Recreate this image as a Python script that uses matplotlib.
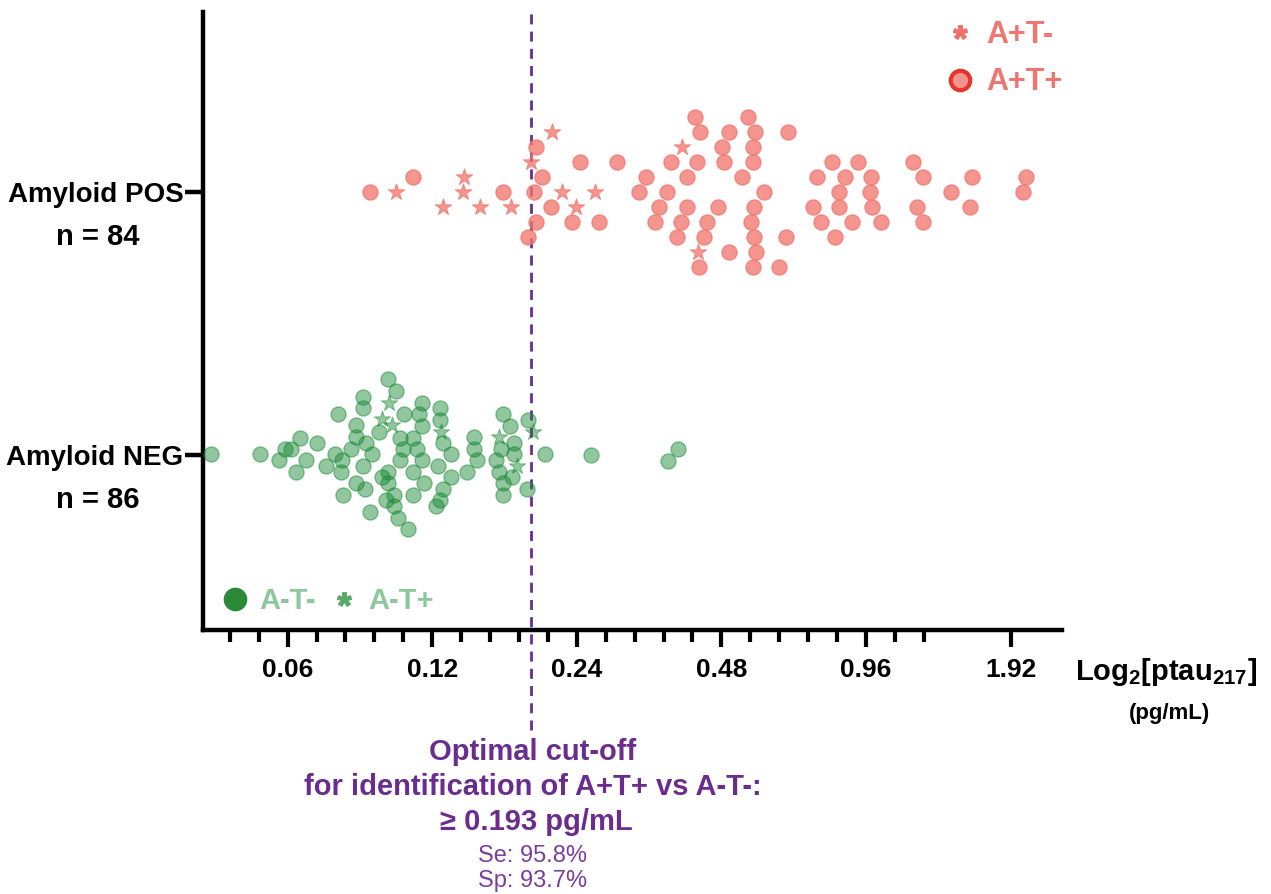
import matplotlib
matplotlib.use('Agg')
import matplotlib.pyplot as plt
from matplotlib.lines import Line2D
from matplotlib.ticker import FixedLocator, FixedFormatter, NullFormatter
import numpy as np

plt.rcParams['font.family'] = ['Liberation Sans', 'DejaVu Sans']
plt.rcParams['mathtext.fontset'] = 'custom'
plt.rcParams['mathtext.rm'] = 'Liberation Sans:bold'
plt.rcParams['mathtext.bf'] = 'Liberation Sans:bold'
plt.rcParams['mathtext.it'] = 'Liberation Sans:bold'
plt.rcParams['mathtext.default'] = 'rm'

# ---------------- data (log2 of ptau217, pg/mL) ----------------
categories = ['Amyloid NEG', 'Amyloid POS']
group_n = ['n = 86', 'n = 84']

# Amyloid POS, A+T+ (circles): log2 value and swarm row
pos_circle_log2 = [-1.238, -0.878,
                   -1.208, -1.005, -0.827, -0.597,
                   -2.338, -1.057, -0.839,
                   -2.038, -1.784, -1.404, -1.224, -1.042, -0.839, -0.296, -0.112, 0.268,
                   -3.192, -2.299, -1.579, -1.296, -0.917, -0.396, -0.204, -0.024, 0.338, 0.677, 1.048,
                   -3.491, -2.569, -2.354, -1.630, -1.438, -0.763, -0.244, -0.031, 0.527, 1.026,
                   -2.234, -1.487, -1.300, -1.085, -0.834, -0.424, -0.246, -0.019, 0.296, 0.661,
                   -2.343, -2.091, -1.907, -1.517, -1.341, -1.157, -0.857, -0.372, -0.158, 0.043, 0.334,
                   -2.396, -1.365, -1.178, -0.832, -0.615, -0.274,
                   -1.005, -0.820,
                   -1.213, -0.839, -0.659]
pos_circle_row = [-5] * 2 + [-4] * 4 + [-3] * 3 + [-2] * 9 + [-1] * 11 + [0] * 10 + \
                 [1] * 10 + [2] * 11 + [3] * 6 + [4] * 2 + [5] * 3

# Amyloid POS, A+T- (stars)
pos_star_log2 = [-2.230, -1.329, -2.377, -2.839, -3.312, -2.846, -2.158, -1.934,
                 -2.984, -2.730, -2.511, -2.061, -1.220]
pos_star_row = [-4, -3, -2, -1, 0, 0, 0, 0, 1, 1, 1, 1, 4]

# Amyloid NEG, A-T- (circles)
neg_circle_log2 = [-3.365, -3.312, -3.538, -3.538, -3.127, -3.007, -3.711, -3.256, -3.150, -3.007,
                   -3.588, -3.127, -2.569, -2.518, -2.396, -3.427, -3.588, -3.284, -3.192, -2.772,
                   -3.976, -3.853, -3.519, -2.984, -2.495, -4.080, -4.038, -3.623, -3.261, -3.164,
                   -2.772, -2.580, -4.587, -4.253, -3.734, -3.473, -2.931, -2.495, -2.280, -4.121,
                   -3.934, -3.680, -3.284, -3.127, -2.749, -2.615, -3.791, -3.538, -3.019, -4.004,
                   -3.692, -3.365, -3.192, -2.815, -2.597, -3.404, -2.931, -2.504, -3.588, -3.365,
                   -3.116, -2.569, -3.521, -2.984, -2.403, -3.676, -3.325, -3.192, -2.569, -3.381,
                   -3.007, -3.325, -3.035, -3.491, -3.296, -3.226, -1.962, -1.427, -1.358]
neg_circle_row = [-5.05, -4.27, -3.89, -3.11, -3.49, -3.15, -2.73, -2.71, -2.71, -2.33,
                  -2.00, -1.93, -2.73, -1.93, -2.33, -1.55, -1.22, -1.15, -1.15, -1.22,
                  -1.15, -0.82, -0.82, -0.78, -0.82, -0.40, -0.40, -0.40, -0.40, -0.40,
                  -0.40, -0.40, -0.05, -0.05, -0.05, -0.05, -0.05, -0.05, -0.05, 0.33,
                  0.33, 0.33, 0.33, 0.33, 0.33, 0.33, 0.73, 0.73, 0.73, 1.11,
                  1.11, 1.11, 1.11, 1.11, 1.11, 1.49, 1.49, 1.49, 1.89, 1.89,
                  1.89, 1.89, 2.27, 2.27, 2.27, 2.67, 2.67, 2.67, 2.67, 3.00,
                  3.00, 3.40, 3.40, 3.78, 4.22, 4.95, 0.00, 0.38, -0.38]

# Amyloid NEG, A-T+ (stars)
neg_star_log2 = [-3.358, -3.404, -3.337, -2.361, -2.995, -2.597, -2.472]
neg_star_row = [-3.49, -2.38, -2.00, -1.55, -1.55, -1.22, 0.73]

cutoff = 0.193
tick_values = [0.06, 0.12, 0.24, 0.48, 0.96, 1.92]
tick_labels = ['0.06', '0.12', '0.24', '0.48', '0.96', '1.92']

# ---------------- styling ----------------
PINK = '#F17770'
GREEN = '#198935'
PURPLE = '#6B2C8F'
ROW_STEP = 15 / 263.0

W, H = 1271, 894
fig = plt.figure(figsize=(W / 100, H / 100), dpi=100)
ax = fig.add_axes([203 / W, 264 / H, 859 / W, 618 / H])

ax.set_xscale('log', base=2)
ax.set_xlim(0.0400, 2.457)
ax.set_ylim(-0.6654, 1.6844)

# cut-off line
ax.axvline(cutoff, ymin=-100 / 618, ymax=1, clip_on=False, color=PURPLE, lw=2.0,
           dashes=(3.6, 2.6), zorder=1)

def ypos(base, rows):
    return base - np.asarray(rows, dtype=float) * ROW_STEP

ax.scatter(2.0 ** np.asarray(pos_circle_log2), ypos(1, pos_circle_row), s=118, marker='o',
           facecolor=PINK, edgecolor=PINK, linewidth=1.0, alpha=0.78, zorder=3, clip_on=False)
ax.scatter(2.0 ** np.asarray(pos_star_log2), ypos(1, pos_star_row), s=150, marker='*',
           facecolor=PINK, edgecolor=PINK, linewidth=0.8, alpha=0.78, zorder=3, clip_on=False)
ax.scatter(2.0 ** np.asarray(neg_circle_log2), ypos(0, neg_circle_row), s=118, marker='o',
           facecolor=GREEN, edgecolor=GREEN, linewidth=1.0, alpha=0.48, zorder=3, clip_on=False)
ax.scatter(2.0 ** np.asarray(neg_star_log2), ypos(0, neg_star_row), s=150, marker='*',
           facecolor=GREEN, edgecolor=GREEN, linewidth=0.8, alpha=0.48, zorder=3, clip_on=False)

# axes styling
for side in ['top', 'right']:
    ax.spines[side].set_visible(False)
for side in ['left', 'bottom']:
    ax.spines[side].set_linewidth(3.2)
    ax.spines[side].set_capstyle('projecting')

ax.xaxis.set_major_locator(FixedLocator(tick_values))
ax.xaxis.set_major_formatter(FixedFormatter(tick_labels))
minor = [0.06 * 2 ** (k / 5) for k in range(-2, 23) if k % 5 != 0]
ax.xaxis.set_minor_locator(FixedLocator(minor))
ax.xaxis.set_minor_formatter(NullFormatter())
ax.tick_params(axis='x', which='major', length=12, width=3, direction='out', pad=8,
               labelsize=19)
ax.tick_params(axis='x', which='minor', length=8.5, width=3, direction='out')
for lab in ax.get_xticklabels():
    lab.set_fontweight('bold')

ax.set_yticks([0, 1])
ax.set_yticklabels(categories, fontsize=20, fontweight='bold')
ax.tick_params(axis='y', length=13, width=3.2, direction='out', pad=1)
for yv, ntext in zip([0, 1], group_n):
    ax.annotate(ntext, xy=(0, yv), xycoords=('axes fraction', 'data'),
                xytext=(-105, -45), textcoords='offset pixels',
                ha='center', va='center', fontsize=21, fontweight='bold')

# legends
h_pos = [Line2D([], [], ls='none', marker='$*$', markersize=10, color='#F0706A'),
         Line2D([], [], ls='none', marker='o', markersize=14, markerfacecolor='#F4948F',
                markeredgecolor='#E8352B', markeredgewidth=3)]
leg1 = ax.legend(h_pos, ['A+T-', 'A+T+'], loc='upper right', bbox_to_anchor=(1.0, 1 - 8 / 618),
                 frameon=False, prop={'size': 22, 'weight': 'bold'},
                 labelcolor=['#F07470', '#F07470'], handlelength=1.0, handletextpad=0.35,
                 labelspacing=0.57, borderaxespad=0.0, borderpad=0.0)
ax.add_artist(leg1)
h_neg = [Line2D([], [], ls='none', marker='o', markersize=16, color='#2A8A3A'),
         Line2D([], [], ls='none', marker='$*$', markersize=10, color='#5AA86A')]
ax.legend(h_neg, ['A-T-', 'A-T+'], loc='lower left', bbox_to_anchor=(0.02, 0.024),
          ncol=2, frameon=False, prop={'size': 21, 'weight': 'bold'},
          labelcolor=['#8DC79C', '#8DC79C'], handlelength=1.0, handletextpad=0.35,
          columnspacing=0.45, borderaxespad=0.0, borderpad=0.0)

# axis title
fig.text(1166 / W, 1 - 672 / H, r'Log$_2$[ptau$_{217}$]', ha='center', va='center',
         fontsize=21, fontweight='bold')
fig.text(1170 / W, 1 - 713 / H, '(pg/mL)', ha='center', va='center', fontsize=16,
         fontweight='bold')

# cut-off annotation
cx = 533 / W
fig.text(cx, 1 - 752 / H, 'Optimal cut-off', ha='center', va='center', fontsize=21,
         fontweight='bold', color=PURPLE)
fig.text(cx, 1 - 787 / H, 'for identification of A+T+ vs A-T-:', ha='center', va='center',
         fontsize=21, fontweight='bold', color=PURPLE)
fig.text(536 / W, 1 - 822 / H, '\u2265 0.193 pg/mL', ha='center', va='center', fontsize=21,
         fontweight='bold', color=PURPLE)
fig.text(cx, 1 - 856 / H, 'Se: 95.8%', ha='center', va='center', fontsize=17, color='#7A3E9D')
fig.text(cx, 1 - 881 / H, 'Sp: 93.7%', ha='center', va='center', fontsize=17, color='#7A3E9D')

fig.savefig('out.png', dpi=100)
